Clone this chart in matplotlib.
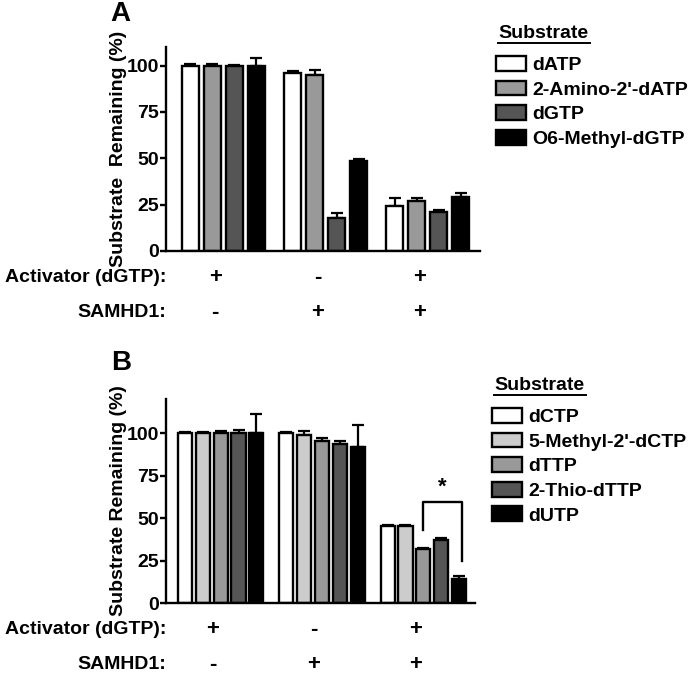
import matplotlib
matplotlib.use('Agg')
import matplotlib.pyplot as plt
import numpy as np
from matplotlib.lines import Line2D

plt.rcParams['font.family'] = ['Liberation Sans', 'DejaVu Sans']
plt.rcParams['font.weight'] = 'bold'
plt.rcParams['font.size'] = 14

# panel A data
labels_a = ['dATP', "2-Amino-2'-dATP", 'dGTP', 'O6-Methyl-dGTP']
colors_a = ['white', '#999999', '#555555', 'black']
vals_a = [[100, 96, 24], [100, 95, 27], [100, 18, 21], [100, 48.5, 29]]
err_a = [[0.8, 0.8, 4.5], [0.8, 2.5, 1.5], [0.5, 2.5, 1], [4, 1, 2.5]]

# panel B data
labels_b = ['dCTP', "5-Methyl-2'-dCTP", 'dTTP', '2-Thio-dTTP', 'dUTP']
colors_b = ['white', '#cccccc', '#999999', '#555555', 'black']
vals_b = [[100, 100, 45.5], [100, 99, 45.5], [100, 95.5, 31.5], [100, 93.5, 37], [100, 92, 14]]
err_b = [[0.5, 0.5, 0.3], [0.5, 2, 0.3], [1, 1.5, 1], [1.5, 2, 1], [11, 13, 2]]

activator = ['+', '-', '+']
samhd1 = ['-', '+', '+']

fig = plt.figure(figsize=(6.93, 6.74), dpi=100)
ax_a = fig.add_axes([0.2395, 0.6276, 0.4531, 0.3027])
ax_b = fig.add_axes([0.2395, 0.1053, 0.4459, 0.3027])

groups = np.arange(3)


def draw(ax, vals, errs, colors, labels, step, width, ylabel, ytop, xlim):
    n = len(vals)
    bars = []
    for i in range(n):
        x = groups + (i - (n - 1) / 2) * step
        b = ax.bar(x, vals[i], width, color=colors[i], edgecolor='black',
                   linewidth=1.7, label=labels[i], zorder=2)
        ax.errorbar(x, vals[i], yerr=[np.zeros(3), errs[i]], fmt='none',
                    ecolor='black', elinewidth=1.6, capsize=4, capthick=1.6, zorder=1)
        bars.append(b)
    ax.set_ylim(0, ytop)
    ax.set_xlim(*xlim)
    ax.set_yticks([0, 25, 50, 75, 100])
    ax.set_xticks([])
    for s in ['top', 'right']:
        ax.spines[s].set_visible(False)
    for s in ['left', 'bottom']:
        ax.spines[s].set_linewidth(1.7)
    ax.tick_params(axis='y', width=1.7, length=4, labelsize=14, pad=1)
    ax.set_ylabel(ylabel, fontsize=14, fontweight='bold', labelpad=0)
    tr = ax.get_xaxis_transform()
    ax.text(0.0, -0.13, 'Activator (dGTP):', transform=ax.transAxes,
            ha='right', va='center', fontsize=14)
    ax.text(0.0, -0.30, 'SAMHD1:', transform=ax.transAxes,
            ha='right', va='center', fontsize=14)
    for g in groups:
        ax.text(g - 0.08, -0.13, activator[g], transform=tr, ha='center',
                va='center', fontsize=16)
        ax.text(g - 0.08, -0.30, samhd1[g], transform=tr, ha='center',
                va='center', fontsize=16)
    return bars


bars_a = draw(ax_a, vals_a, err_a, colors_a, labels_a, 0.215, 0.166,
              'Substrate  Remaining (%)', 110, (-0.56, 2.51))
bars_b = draw(ax_b, vals_b, err_b, colors_b, labels_b, 0.176, 0.14,
              'Substrate Remaining (%)', 120, (-0.54, 2.51))

# significance bracket in panel B
xl = 2 + 0 * 0.176
xr = 2 + 2 * 0.176 + 0.03
ax_b.plot([xl, xl, xr, xr], [43, 59.5, 59.5, 25], color='black', lw=1.7, clip_on=False)
ax_b.text((xl + xr) / 2, 62, '*', ha='center', va='bottom', fontsize=16)

# legends
for ax, bars, labels, lx, ty, ly in [(ax_a, bars_a, labels_a, 498, 33, 56),
                                     (ax_b, bars_b, labels_b, 494, 385, 408)]:
    W, H = 693, 674
    fig.text(lx / W, 1 - ty / H, 'Substrate', ha='left', va='center', fontsize=14)
    fig.add_artist(Line2D([lx / W, (lx + 92) / W], [1 - (ty + 10) / H] * 2,
                          color='black', lw=1.4))
    ax.legend(bars, labels, loc='upper left', bbox_to_anchor=(lx / W - 0.003, 1 - ly / H),
              bbox_transform=fig.transFigure, frameon=False, fontsize=14,
              handlelength=1.55, handleheight=0.8, handletextpad=0.3,
              labelspacing=0.33, borderpad=0, borderaxespad=0)

fig.text(120 / 693, 1 - 14 / 674, 'A', ha='center', va='center', fontsize=20)
fig.text(121 / 693, 1 - 363 / 674, 'B', ha='center', va='center', fontsize=20)

fig.savefig('out.png', dpi=100)
